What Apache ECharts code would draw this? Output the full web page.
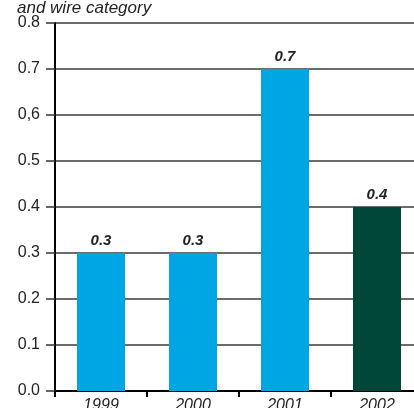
<!DOCTYPE html>
<html>
<head>
<meta charset="utf-8">
<script src="https://cdn.jsdelivr.net/npm/echarts@6/dist/echarts.min.js"></script>
<style>
html,body{margin:0;padding:0;background:#fff;}
#chart{width:414px;height:408px;}
</style>
</head>
<body>
<div id="chart"></div>
<script>
var years=['1999','2000','2001','2002'];
var values=[0.3,0.3,0.7,0.4];
var barColors=['#00a6e3','#00a6e3','#00a6e3','#00473a'];
var tickLabels=['0.0','0.1','0.2','0.3','0.4','0.5','0,6','0.7','0.8'];

var myChart=echarts.init(document.getElementById('chart'));
var option={
    animation:false,
    textStyle:{fontFamily:'Liberation Sans, Arial, sans-serif'},
    title:{
        text:'and wire category',
        left:17,
        top:0,
        padding:0,
        textStyle:{fontSize:17,fontStyle:'italic',fontWeight:'normal',color:'#222'}
    },
    // grid runs past the right edge, the last bar is cut like in the picture
    grid:{left:55,width:368,top:23,bottom:17,outerBoundsMode:'none',containLabel:false},
    xAxis:{
        type:'category',
        data:years,
        axisLine:{lineStyle:{color:'#000',width:2}},
        axisTick:{show:true,length:6,lineStyle:{color:'#000',width:2}},
        axisLabel:{fontSize:16,fontStyle:'italic',color:'#222',margin:7}
    },
    yAxis:{
        type:'value',
        min:0,
        max:0.8,
        interval:0.1,
        axisLine:{show:true,lineStyle:{color:'#000',width:2}},
        axisTick:{show:true,length:9,lineStyle:{color:'#333',width:1.5}},
        splitLine:{lineStyle:{color:'#3a3a3a',width:1.5}},
        axisLabel:{
            fontSize:16,color:'#222',margin:15,
            formatter:function(v){return tickLabels[Math.round(v*10)];}
        }
    },
    series:[{
        type:'bar',
        data:values.map(function(v,i){return {value:v,itemStyle:{color:barColors[i]}};}),
        barWidth:48,
        label:{
            show:true,position:'top',distance:5,
            fontSize:15,fontWeight:'bold',fontStyle:'italic',color:'#222',
            formatter:function(p){return p.value.toFixed(1);}
        }
    }]
};
myChart.setOption(option);
</script>
</body>
</html>
